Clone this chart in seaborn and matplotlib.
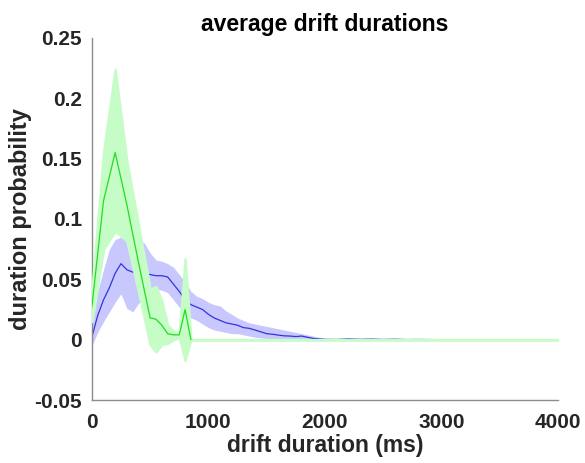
import numpy as np
import pandas as pd
import matplotlib
matplotlib.use("Agg")
import matplotlib.pyplot as plt
import seaborn as sns

# ---- data ----
blue_x = [0, 50, 100, 150, 200, 250, 300, 350, 400, 450, 500, 550, 600, 650, 700,
          750, 800, 850, 900, 950, 1000, 1050, 1100, 1150, 1200, 1250, 1300, 1350,
          1400, 1450, 1500, 1550, 1600, 1650, 1700, 1750, 1800, 1850, 1900, 1950,
          2000, 2100, 2200, 2300, 2400, 2500, 2600, 2700, 2800, 2900, 3000, 4000]
blue_mean = [0.002, 0.020, 0.033, 0.043, 0.055, 0.063, 0.058, 0.056, 0.055, 0.054,
             0.054, 0.053, 0.053, 0.052, 0.046, 0.040, 0.033, 0.029, 0.027, 0.025,
             0.021, 0.018, 0.016, 0.014, 0.013, 0.012, 0.010, 0.0094, 0.008, 0.0065,
             0.005, 0.0045, 0.0038, 0.0032, 0.003, 0.0026, 0.003, 0.002, 0.001,
             0.0006, 0.0003, 0.0002, 0.0006, 0.0003, 0.0005, 0.0002, 0.0004, 0.0001,
             0.0002, 0.0001, 0.0, 0.0]
blue_upper = [0.015, 0.040, 0.058, 0.075, 0.083, 0.085, 0.083, 0.083, 0.084, 0.080,
              0.072, 0.066, 0.065, 0.063, 0.060, 0.054, 0.048, 0.040, 0.036, 0.034,
              0.031, 0.029, 0.028, 0.024, 0.021, 0.018, 0.016, 0.014, 0.013, 0.012,
              0.011, 0.010, 0.009, 0.008, 0.007, 0.006, 0.005, 0.004, 0.003, 0.002,
              0.001, 0.0008, 0.0012, 0.0008, 0.001, 0.0006, 0.0008, 0.0003, 0.0004,
              0.0003, 0.0, 0.0]
blue_lower = [-0.005, 0.006, 0.015, 0.023, 0.031, 0.038, 0.026, 0.023, 0.030, 0.036,
              0.040, 0.042, 0.041, 0.039, 0.033, 0.027, 0.021, 0.018, 0.016, 0.013,
              0.010, 0.008, 0.007, 0.006, 0.005, 0.005, 0.004, 0.003, 0.002, 0.0015,
              0.001, 0.0, 0.0, 0.0, 0.0, 0.0, 0.0, 0.0, 0.0, 0.0, 0.0, 0.0, 0.0, 0.0,
              0.0, 0.0, 0.0, 0.0, 0.0, 0.0, 0.0, 0.0]

green_x = [0, 100, 200, 300, 400, 500, 550, 600, 650, 700, 750, 800, 850, 4000]
green_mean = [0.027, 0.115, 0.155, 0.112, 0.064, 0.018, 0.017, 0.012, 0.005, 0.004,
              0.004, 0.025, 0.0, 0.0]
green_upper = [0.040, 0.155, 0.224, 0.148, 0.095, 0.042, 0.044, 0.032, 0.012, 0.007,
               0.005, 0.067, 0.0, 0.0]
green_lower = [0.015, 0.075, 0.090, 0.082, 0.040, -0.004, -0.010, -0.004, -0.003, 0.0,
               0.002, -0.017, 0.0, 0.0]

x_ticks = [0, 1000, 2000, 3000, 4000]
x_tick_labels = ["0", "1000", "2000", "3000", "4000"]
y_ticks = [-0.05, 0, 0.05, 0.1, 0.15, 0.2, 0.25]
y_tick_labels = ["-0.05", "0", "0.05", "0.1", "0.15", "0.2", "0.25"]

title = "average drift durations"
xlabel = "drift duration (ms)"
ylabel = "duration probability"

# ---- styling ----
sns.set_theme(style="white")
plt.rcParams["font.family"] = ["Liberation Sans", "DejaVu Sans"]

fig = plt.figure(figsize=(5.85, 4.63), dpi=100)
ax = fig.add_axes([0.157, 0.136, 0.797, 0.782])

blue_df = pd.DataFrame({"x": blue_x, "y": blue_mean})
green_df = pd.DataFrame({"x": green_x, "y": green_mean})

blue_fill = "#c8c8ff"
green_fill = "#c6fcc6"

ax.fill_between(blue_x, blue_lower, blue_upper, color=blue_fill, lw=0, zorder=1)
sns.lineplot(data=blue_df, x="x", y="y", ax=ax, color="#3333dd", lw=0.9, zorder=2)
ax.fill_between(green_x, green_lower, green_upper, color=green_fill,
                edgecolor=green_fill, lw=1.8, zorder=3)
sns.lineplot(data=green_df.iloc[:-1], x="x", y="y", ax=ax, color="#22dd22",
             lw=0.9, zorder=4)

ax.set_xlim(0, 4000)
ax.set_ylim(-0.05, 0.25)
ax.set_xticks(x_ticks)
ax.set_xticklabels(x_tick_labels)
ax.set_yticks(y_ticks)
ax.set_yticklabels(y_tick_labels)

for s in ["top", "right"]:
    ax.spines[s].set_visible(False)
for s in ["left", "bottom"]:
    ax.spines[s].set_color("#8c8c8c")
    ax.spines[s].set_linewidth(1.0)

ax.tick_params(axis="both", direction="in", length=5, width=0.8, color="#8c8c8c",
               labelsize=15, labelcolor="#262626")
ax.tick_params(axis="x", pad=9)
ax.tick_params(axis="y", pad=7)
for lbl in ax.get_xticklabels() + ax.get_yticklabels():
    lbl.set_fontweight("bold")

ax.set_title(title, fontsize=16.5, fontweight="bold", color="black", pad=5)
ax.set_xlabel(xlabel, fontsize=16.5, fontweight="bold", color="#262626", labelpad=2)
ax.set_ylabel(ylabel, fontsize=17, fontweight="bold", color="#262626", labelpad=2)

fig.savefig("out.png", dpi=100)
